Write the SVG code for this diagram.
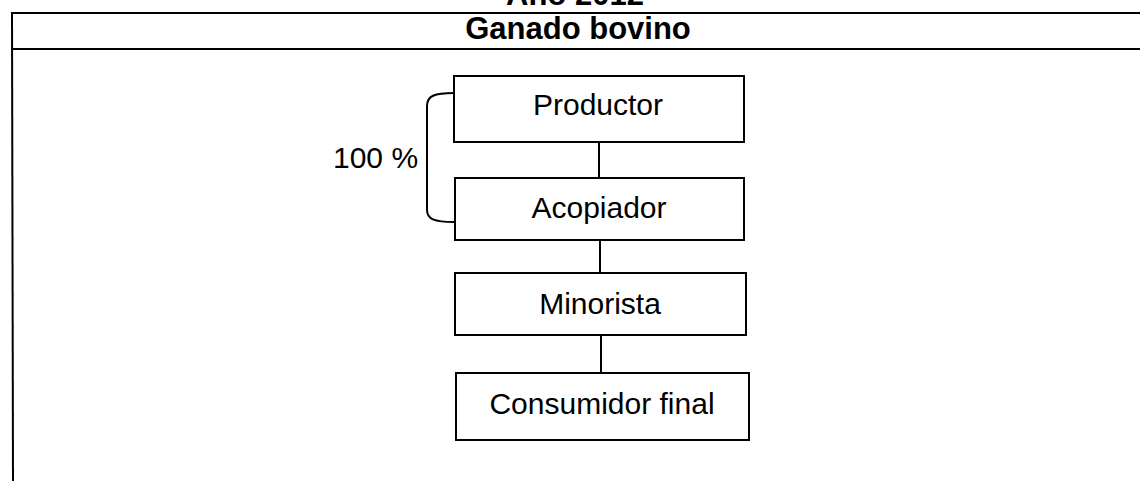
<svg xmlns="http://www.w3.org/2000/svg" width="1140" height="481" viewBox="0 0 1140 481">
<style>
text{font-family:"Liberation Sans",Arial,sans-serif;fill:#000}
.t{font-weight:bold;font-size:31px;text-anchor:middle}
.n{font-size:30px;text-anchor:middle}
.box{fill:#fff;stroke:#000;stroke-width:2}
.ln{stroke:#000;stroke-width:2;fill:none}
</style>
<rect width="1140" height="481" fill="#fff"/>
<g id="frame">
<text class="t" x="575" y="5">Año 2012</text>
<line class="ln" x1="11" y1="13" x2="1140" y2="13"/>
<line class="ln" x1="11" y1="49" x2="1140" y2="49"/>
<line class="ln" x1="12" y1="13" x2="13" y2="481"/>
<text class="t" x="578" y="39">Ganado bovino</text>
</g>
<g id="connectors">
<line class="ln" x1="599" y1="142" x2="599" y2="178"/>
<line class="ln" x1="600" y1="240" x2="600" y2="273"/>
<line class="ln" x1="601" y1="335" x2="601" y2="373"/>
<path class="ln" d="M454,93 C434,93 427,96 427,106 L427,210 C427,219 434,222 454,222"/>
</g>
<g id="label100">
<text x="333" y="168" font-size="30">100 %</text>
</g>
<g id="productor">
<rect class="box" x="454" y="76" width="290" height="66"/>
<text class="n" x="598" y="115">Productor</text>
</g>
<g id="acopiador">
<rect class="box" x="455" y="178" width="289" height="62"/>
<text class="n" x="599" y="218">Acopiador</text>
</g>
<g id="minorista">
<rect class="box" x="455" y="273" width="291" height="62"/>
<text class="n" x="600" y="314">Minorista</text>
</g>
<g id="consumidor">
<rect class="box" x="456" y="373" width="293" height="67"/>
<text class="n" x="602" y="414">Consumidor final</text>
</g>
</svg>
